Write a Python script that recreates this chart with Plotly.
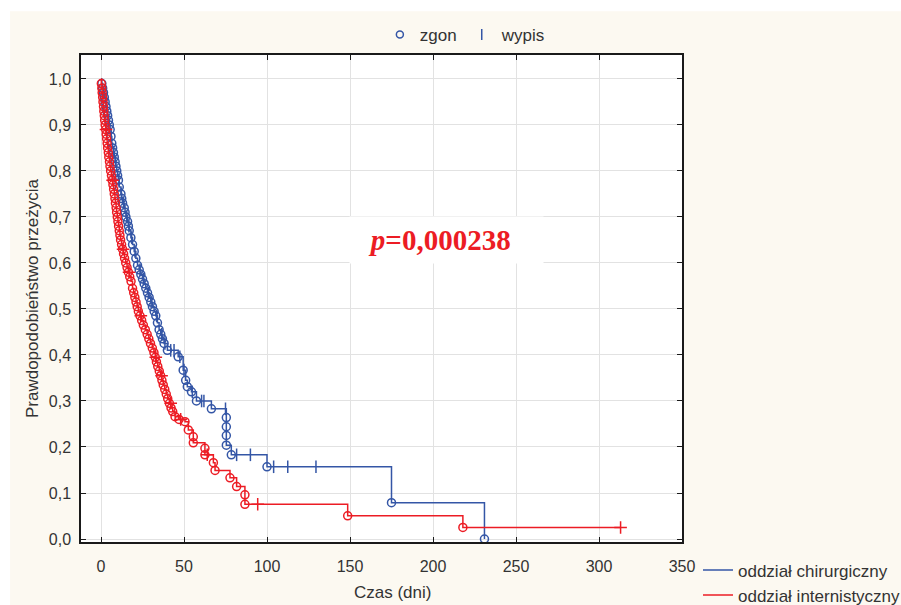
import plotly.graph_objects as go

# Kaplan-Meier estimates: event (death) times in days and survival after each event
chir_event_t = [0.5, 1, 1.5, 2, 2.5, 3, 3.5, 4, 4.5, 5, 5.5, 6, 6.5, 7, 7.5, 8, 8.5, 9, 9.5, 10,
                10.5, 11, 12, 12.5, 13, 14, 14.5, 15, 16, 16.5, 17, 18, 19, 20, 21, 22, 23, 24, 25, 26,
                27, 28, 29, 30, 31, 32, 33, 34, 35, 36, 37, 38, 40, 46.5, 49.5, 51, 52, 54.5, 57.5,
                66.5, 75.5, 75.5, 75.5, 75.5, 78.5, 100, 175, 231]
chir_event_s = [0.99, 0.98, 0.97, 0.96, 0.95, 0.94, 0.93, 0.92, 0.91, 0.90, 0.89, 0.875, 0.86, 0.85,
                0.84, 0.83, 0.82, 0.81, 0.80, 0.79, 0.78, 0.765, 0.75, 0.74, 0.73, 0.72, 0.71, 0.70,
                0.69, 0.68, 0.67, 0.655, 0.64, 0.625, 0.61, 0.595, 0.585, 0.575, 0.565, 0.555, 0.545,
                0.535, 0.525, 0.515, 0.505, 0.495, 0.485, 0.47, 0.455, 0.445, 0.435, 0.425, 0.41,
                0.396, 0.367, 0.345, 0.331, 0.32, 0.30, 0.283, 0.264, 0.244, 0.225, 0.204, 0.183,
                0.157, 0.079, 0.0]
# censored (discharged) times
chir_cens_t = [1.7, 3.2, 4.7, 6.2, 7.7, 8.8, 10.8, 12.3, 13.6, 15.5, 16.8, 18.5, 20.5, 23.5, 25.5,
               28.5, 30.2, 33.5, 36.5, 38.5, 42, 44, 47.5, 50, 55, 60.6, 62, 75, 81.7, 90, 104,
               112.5, 129.5]

inter_event_t = [0.2, 0.5, 0.7, 1.0, 1.2, 1.5, 1.7, 2.0, 2.2, 2.5, 2.8, 3.1, 3.4, 3.7, 4.0, 4.4, 4.7,
                 5.1, 5.4, 5.8, 6.3, 6.7, 7.2, 7.6, 8.0, 8.4, 8.7, 9.1, 9.4, 9.8, 10.2, 10.6, 11.0,
                 11.4, 11.8, 12.4, 13.0, 13.6, 14.2, 14.9, 15.7, 16.5, 17.3, 18.1, 19.0, 19.7, 20.4,
                 21.1, 21.8, 22.5, 23.5, 24.5, 25.5, 26.7, 27.8, 28.8, 29.8, 30.9, 31.9, 32.7, 33.4,
                 34.2, 35.1, 35.9, 36.7, 37.5, 38.4, 39.3, 40.2, 41.2, 42.2, 43.2, 44.6, 47.0, 50.6,
                 52.6, 55.6, 55.6, 62.6, 62.6, 67.7, 68.7, 77.7, 81.7, 86.7, 86.7, 148.6, 218]
inter_event_s = [0.99, 0.98, 0.97, 0.96, 0.95, 0.94, 0.93, 0.92, 0.91, 0.90, 0.89, 0.88, 0.87, 0.86,
                 0.85, 0.84, 0.83, 0.82, 0.81, 0.80, 0.79, 0.78, 0.77, 0.76, 0.75, 0.74, 0.73, 0.72,
                 0.71, 0.70, 0.69, 0.68, 0.67, 0.66, 0.65, 0.64, 0.63, 0.62, 0.61, 0.60, 0.59, 0.58,
                 0.57, 0.56, 0.545, 0.535, 0.525, 0.515, 0.505, 0.495, 0.485, 0.475, 0.465, 0.455,
                 0.445, 0.435, 0.425, 0.415, 0.405, 0.395, 0.385, 0.375, 0.365, 0.355, 0.345, 0.335,
                 0.325, 0.315, 0.305, 0.295, 0.285, 0.277, 0.266, 0.26, 0.255, 0.237, 0.222, 0.209,
                 0.197, 0.183, 0.166, 0.149, 0.133, 0.114, 0.096, 0.0754, 0.0503, 0.0251]
inter_cens_t = [3.0, 7.0, 13.3, 16.9, 24.0, 33.0, 36.5, 42.0, 48.0, 64.0, 94.4, 313]

x_ticks = [0, 50, 100, 150, 200, 250, 300, 350]
y_ticks = [0.0, 0.1, 0.2, 0.3, 0.4, 0.5, 0.6, 0.7, 0.8, 0.9, 1.0]
y_tick_text = ["0,0", "0,1", "0,2", "0,3", "0,4", "0,5", "0,6", "0,7", "0,8", "0,9", "1,0"]

BLUE = "#3456a6"
RED = "#ec1c24"
TXT = "#333333"


def surv_at(t, ev_t, ev_s):
    s = 1.0
    for et, es in zip(ev_t, ev_s):
        if et <= t:
            s = es
    return s


def step_path(ev_t, ev_s, cens_t):
    xs = [0] + list(ev_t)
    ys = [1.0] + list(ev_s)
    last = max(cens_t)
    if last > ev_t[-1]:
        xs.append(last)
        ys.append(ev_s[-1])
    return xs, ys


fig = go.Figure()

groups = [
    ("oddział chirurgiczny", chir_event_t, chir_event_s, chir_cens_t, BLUE, "line-ns-open"),
    ("oddział internistyczny", inter_event_t, inter_event_s, inter_cens_t, RED, "cross-thin-open"),
]

for name, ev_t, ev_s, cens_t, col, csym in groups:
    lx, ly = step_path(ev_t, ev_s, cens_t)
    fig.add_trace(go.Scatter(x=lx, y=ly, mode="lines", line=dict(color=col, width=1.5, shape="hv"),
                             name=name, legend="legend"))
    fig.add_trace(go.Scatter(x=ev_t, y=ev_s, mode="markers", showlegend=False,
                             marker=dict(symbol="circle-open", size=8, color=col,
                                         line=dict(color=col, width=1.5))))
    fig.add_trace(go.Scatter(x=cens_t, y=[surv_at(t, ev_t, ev_s) for t in cens_t], mode="markers",
                             showlegend=False,
                             marker=dict(symbol=csym, size=9, color=col,
                                         line=dict(color=col, width=1.5))))

# marker key
fig.add_trace(go.Scatter(x=[None], y=[None], mode="markers", name="zgon", legend="legend2",
                         marker=dict(symbol="circle-open", size=7, color=BLUE,
                                     line=dict(color=BLUE, width=1.5))))
fig.add_trace(go.Scatter(x=[None], y=[None], mode="markers", name="wypis", legend="legend2",
                         marker=dict(symbol="line-ns-open", size=8, color=BLUE,
                                     line=dict(color=BLUE, width=1.5))))

axis_common = dict(showline=True, linecolor="#1a1a1a", linewidth=1.5, mirror="ticks",
                   ticks="inside", ticklen=5, tickwidth=1, tickcolor="#1a1a1a",
                   showgrid=True, gridcolor="#e2e2e2", gridwidth=1, zeroline=False,
                   tickfont=dict(family="Liberation Sans, Arial", size=16, color=TXT))

fig.update_xaxes(range=[-12.05, 350], tickvals=x_ticks, ticktext=[str(v) for v in x_ticks],
                 ticklabelstandoff=9, **axis_common)
fig.update_yaxes(range=[-0.0065, 1.052], tickvals=y_ticks, ticktext=y_tick_text,
                 ticklabelstandoff=5, **axis_common)

fig.update_layout(
    width=901, height=605,
    margin=dict(l=81, r=219, t=55, b=63, autoexpand=False),
    paper_bgcolor="#fcf9f1",
    plot_bgcolor="#ffffff",
    font=dict(family="Liberation Sans, Arial", size=17, color=TXT),
    legend=dict(xref="container", yref="container", x=0.7747, y=0.087,
                xanchor="left", yanchor="top", orientation="v",
                bgcolor="rgba(0,0,0,0)", font=dict(size=17, color=TXT), tracegroupgap=0,
                itemwidth=30),
    legend2=dict(xref="container", yref="container", x=0.5165, y=0.972,
                 xanchor="center", yanchor="top", orientation="h",
                 bgcolor="rgba(0,0,0,0)", font=dict(size=17, color=TXT)),
    shapes=[
        dict(type="rect", xref="paper", yref="paper", x0=-0.2, x1=1.5, y0=1.09, y1=1.2,
             fillcolor="#ffffff", line=dict(width=0), layer="below"),
        dict(type="rect", xref="paper", yref="paper", x0=-0.2, x1=-0.118, y0=-0.2, y1=1.2,
             fillcolor="#ffffff", line=dict(width=0), layer="below"),
    ],
    annotations=[
        dict(text="<i>p</i>=0,000238\u00a0\u00a0", xref="paper", yref="paper", x=0.608, y=0.620,
             showarrow=False, bgcolor="#ffffff", width=193, height=46, borderpad=0,
             font=dict(family="Liberation Serif, Times New Roman", size=29, color=RED,
                       weight="bold")),
        dict(text="Czas (dni)", xref="paper", yref="paper", x=0.519, y=-0.103,
             xanchor="center", yanchor="middle", showarrow=False,
             font=dict(size=17, color=TXT)),
        dict(text="Prawdopodobieństwo przeżycia", xref="paper", yref="paper", x=-0.0815,
             y=0.501, xanchor="center", yanchor="middle", textangle=-90, showarrow=False,
             font=dict(size=17, color=TXT)),
    ],
)

fig.write_html("out.html")
